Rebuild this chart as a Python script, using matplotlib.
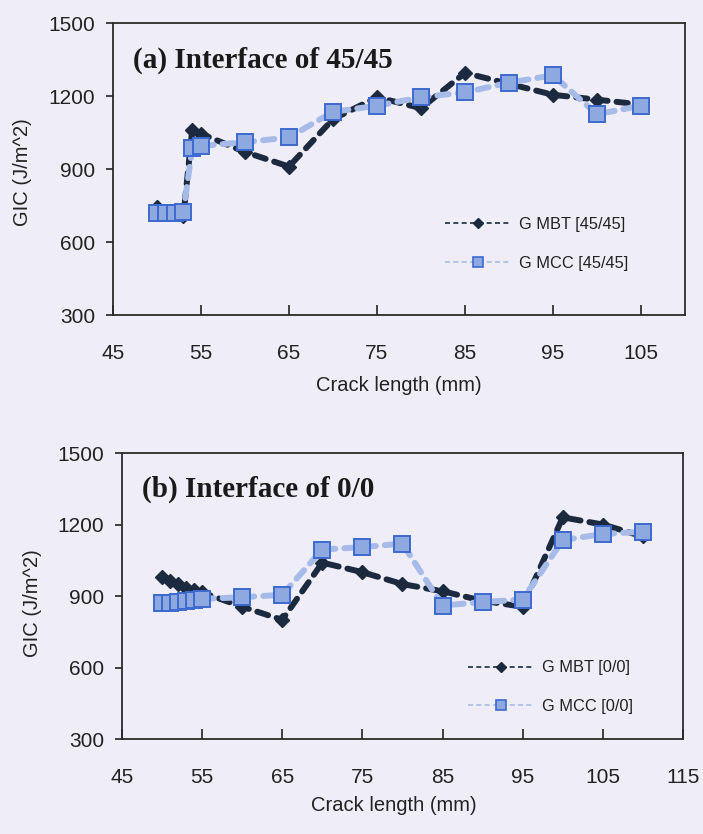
import matplotlib

matplotlib.use("Agg")

import matplotlib.pyplot as plt
from matplotlib.lines import Line2D

# crack length (mm) and GIC (J/m^2)
crack_45 = [50, 51, 52, 53, 54, 55, 60, 65, 70, 75, 80, 85, 90, 95, 100, 105]
mbt_45 = [745, 725, 715, 705, 1060, 1045, 970, 910, 1105, 1195, 1150, 1295, 1250, 1205, 1185, 1165]
mcc_45 = [720, 720, 720, 722, 985, 995, 1010, 1030, 1135, 1160, 1195, 1215, 1255, 1285, 1125, 1160]

crack_00 = [50, 51, 52, 53, 54, 55, 60, 65, 70, 75, 80, 85, 90, 95, 100, 105, 110]
mbt_00 = [980, 965, 950, 935, 925, 915, 855, 800, 1040, 1000, 950, 920, 880, 855, 1230, 1200, 1150]
mcc_00 = [870, 872, 875, 878, 882, 888, 895, 905, 1095, 1105, 1120, 860, 875, 885, 1135, 1160, 1170]

x_ticks_45 = [45, 55, 65, 75, 85, 95, 105]
x_ticks_00 = [45, 55, 65, 75, 85, 95, 105, 115]
y_ticks = [300, 600, 900, 1200, 1500]

BG = "#efeef8"
DARK = "#1c2a40"
LIGHT_LINE = "#a7bbe8"
SQ_FACE = "#8ea9df"
SQ_EDGE = "#3d6ad0"
SANS = "Liberation Sans"
SERIF = "Liberation Serif"


def draw_panel(ax, crack, mbt, mcc, xlim, xticks, title, labels, legend_anchor):
    ax.set_facecolor(BG)
    ax.plot(crack, mbt, color=DARK, lw=4.3, dashes=(1.9, 1.5),
            dash_capstyle="round", marker="D", ms=7.5, mfc=DARK, mec=DARK,
            zorder=3)
    ax.plot(crack, mcc, color=LIGHT_LINE, lw=4.3, dashes=(1.9, 1.5),
            dash_capstyle="round", marker="s", ms=11.5, mfc=SQ_FACE,
            mec=SQ_EDGE, mew=1.4, zorder=4)

    ax.set_xlim(*xlim)
    ax.set_ylim(300, 1500)
    ax.set_xticks(xticks)
    ax.set_yticks(y_ticks)
    ax.tick_params(axis="x", direction="in", length=7, width=1.2, pad=21,
                   labelsize=15, colors="#222222")
    ax.tick_params(axis="y", direction="out", length=5, width=1.2, pad=8,
                   labelsize=15, colors="#222222")
    for lab in ax.get_xticklabels() + ax.get_yticklabels():
        lab.set_family(SANS)
    for sp in ax.spines.values():
        sp.set_linewidth(1.3)
        sp.set_color("#2a2a2a")

    ax.text(0.035, 0.846, title, transform=ax.transAxes, family=SERIF,
            fontweight="bold", fontsize=21, color="#1a1a1a", va="baseline")

    ax.set_xlabel("Crack length (mm)", family=SANS, fontsize=14.5, color="#222222")
    ax.set_ylabel("GIC (J/m^2)", family=SANS, fontsize=14.5, color="#222222")

    handles = [
        Line2D([], [], color=DARK, lw=1.2, ls=(0, (3, 2)), marker="D",
               ms=5, mfc=DARK, mec=DARK),
        Line2D([], [], color=LIGHT_LINE, lw=1.2, ls=(0, (3, 2)), marker="s",
               ms=7, mfc=SQ_FACE, mec=SQ_EDGE, mew=1.2),
    ]
    leg = ax.legend(handles, labels, loc="upper left", bbox_to_anchor=legend_anchor,
                    frameon=False, borderpad=0, borderaxespad=0, handlelength=4.0,
                    handletextpad=0.5, labelspacing=1.45,
                    prop={"family": SANS, "size": 11.8})
    for t in leg.get_texts():
        t.set_color("#222222")
    return ax


def main() -> None:
    fig = plt.figure(figsize=(7.03, 8.34), dpi=100, facecolor=BG)

    ax_a = fig.add_axes([0.1607, 0.6223, 0.8137, 0.3501])
    draw_panel(ax_a, crack_45, mbt_45, mcc_45, (45, 110), x_ticks_45,
               "(a) Interface of 45/45", ["G MBT [45/45]", "G MCC [45/45]"],
               (0.580, 0.335))
    ax_a.xaxis.set_label_coords(0.5, -0.21)
    ax_a.yaxis.set_label_coords(-0.142, 0.49)

    ax_b = fig.add_axes([0.1735, 0.1139, 0.798, 0.3429])
    draw_panel(ax_b, crack_00, mbt_00, mcc_00, (45, 115), x_ticks_00,
               "(b) Interface of 0/0", ["G MBT [0/0]", "G MCC [0/0]"],
               (0.617, 0.275))
    ax_b.xaxis.set_label_coords(0.485, -0.2)
    ax_b.yaxis.set_label_coords(-0.143, 0.475)

    fig.savefig("out.png", dpi=100, facecolor=BG)
    plt.close(fig)


if __name__ == "__main__":
    main()
